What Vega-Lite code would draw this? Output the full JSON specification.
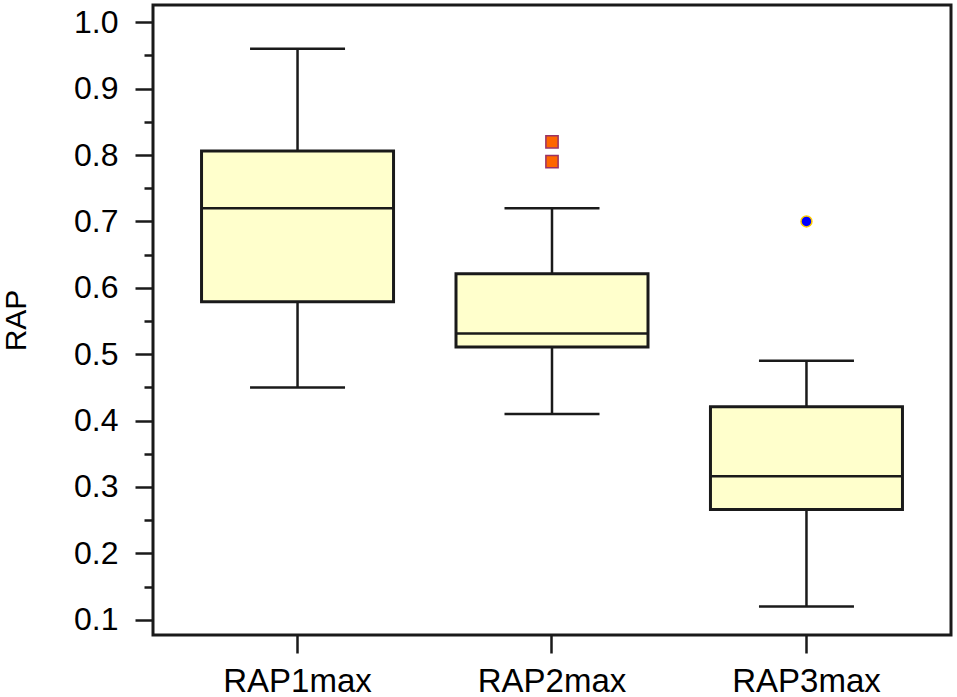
{
  "$schema": "https://vega.github.io/schema/vega-lite/v6.json",
  "autosize": "none",
  "padding": {"left": 153, "top": 5, "right": 6, "bottom": 62},
  "width": 798,
  "height": 630,
  "background": "white",
  "config": {
    "font": "Liberation Sans",
    "view": {"stroke": "#1a1a1a", "strokeWidth": 3},
    "axis": {
      "labelColor": "black",
      "titleColor": "black",
      "domainColor": "#1a1a1a",
      "domainWidth": 3,
      "tickColor": "#1a1a1a",
      "tickWidth": 2.5,
      "grid": false
    }
  },
  "datasets": {
    "boxes": [
      {"group": "RAP1max", "lower": 0.45, "q1": 0.579, "median": 0.72, "q3": 0.806, "upper": 0.96},
      {"group": "RAP2max", "lower": 0.41, "q1": 0.511, "median": 0.531, "q3": 0.621, "upper": 0.72},
      {"group": "RAP3max", "lower": 0.12, "q1": 0.266, "median": 0.316, "q3": 0.421, "upper": 0.49}
    ],
    "outliers": [
      {"group": "RAP2max", "value": 0.82},
      {"group": "RAP2max", "value": 0.79},
      {"group": "RAP3max", "value": 0.70}
    ]
  },
  "encoding": {
    "x": {
      "field": "group",
      "type": "nominal",
      "sort": ["RAP1max", "RAP2max", "RAP3max"],
      "scale": {"domain": ["RAP1max", "RAP2max", "RAP3max"], "paddingInner": 0, "paddingOuter": 0.068},
      "axis": {
        "title": null,
        "labelAngle": 0,
        "labelFontSize": 33,
        "labelPadding": 12,
        "tickSize": 18,
        "domain": false
      }
    }
  },
  "layer": [
    {
      "data": {"name": "boxes"},
      "mark": {"type": "rule", "stroke": "#1a1a1a", "strokeWidth": 2.5},
      "encoding": {
        "y": {
          "field": "lower",
          "type": "quantitative",
          "scale": {"domain": [0.077, 1.026], "nice": false, "zero": false},
          "axis": {
            "title": "RAP",
            "titleFontSize": 30,
            "titleFontWeight": "normal",
            "titlePadding": 42,
            "values": [0.1, 0.2, 0.3, 0.4, 0.5, 0.6, 0.7, 0.8, 0.9, 1.0],
            "format": ".1f",
            "labelFontSize": 32,
            "labelPadding": 17,
            "tickSize": 18,
            "domain": false
          }
        },
        "y2": {"field": "upper"}
      }
    },
    {
      "data": {"name": "boxes"},
      "mark": {"type": "tick", "color": "#1a1a1a", "size": 95, "thickness": 2.5, "opacity": 1},
      "encoding": {
        "y": {
          "field": "lower",
          "type": "quantitative",
          "axis": {
            "title": null,
            "orient": "left",
            "values": [0.15, 0.25, 0.35, 0.45, 0.55, 0.65, 0.75, 0.85, 0.95],
            "labels": false,
            "tickSize": 9,
            "domain": false
          }
        }
      }
    },
    {
      "data": {"name": "boxes"},
      "mark": {"type": "tick", "color": "#1a1a1a", "size": 95, "thickness": 2.5, "opacity": 1},
      "encoding": {
        "y": {"field": "upper", "type": "quantitative", "axis": null}
      }
    },
    {
      "data": {"name": "boxes"},
      "mark": {"type": "bar", "size": 192, "fill": "#FFFFCC", "stroke": "#1a1a1a", "strokeWidth": 3, "opacity": 1},
      "encoding": {
        "y": {"field": "q1", "type": "quantitative", "axis": null},
        "y2": {"field": "q3"}
      }
    },
    {
      "data": {"name": "boxes"},
      "mark": {"type": "tick", "color": "#1a1a1a", "size": 192, "thickness": 2.5, "opacity": 1},
      "encoding": {
        "y": {"field": "median", "type": "quantitative", "axis": null}
      }
    },
    {
      "data": {"name": "outliers"},
      "transform": [{"filter": "datum.group === 'RAP2max'"}],
      "mark": {"type": "point", "shape": "square", "filled": true, "fill": "#FF6600", "stroke": "#993366", "strokeWidth": 1.5, "size": 150, "opacity": 1},
      "encoding": {
        "y": {"field": "value", "type": "quantitative", "axis": null}
      }
    },
    {
      "data": {"name": "outliers"},
      "transform": [{"filter": "datum.group === 'RAP3max'"}],
      "mark": {"type": "point", "shape": "circle", "filled": true, "fill": "#0000FF", "stroke": "#FFCC00", "strokeWidth": 1.5, "size": 120, "opacity": 1},
      "encoding": {
        "y": {"field": "value", "type": "quantitative", "axis": null}
      }
    }
  ],
  "resolve": {"axis": {"y": "independent"}}
}
